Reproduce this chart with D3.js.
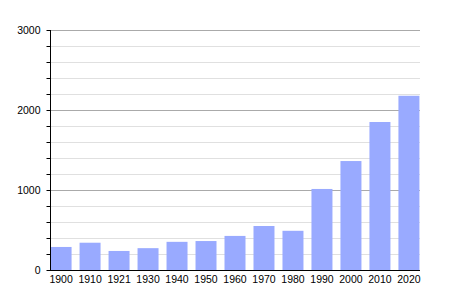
<!DOCTYPE html>
<html>
<head>
<meta charset="utf-8">
<script src="https://cdn.jsdelivr.net/npm/d3@7"></script>
<style>
  body { margin: 0; background: #fff; }
  text { font-family: "Liberation Sans", Arial, sans-serif; font-size: 10px; fill: #000; }
</style>
</head>
<body>
<div id="chart"></div>
<script>
const years = ['1900', '1910', '1921', '1930', '1940', '1950', '1960', '1970', '1980', '1990', '2000', '2010', '2020'];
const population = [288, 341, 238, 273, 352, 362, 426, 550, 490, 1013, 1362, 1850, 2178];
const majorTicks = [0, 1000, 2000, 3000];
const minorTicks = d3.range(0, 3001, 200);

const margin = { top: 30, right: 30, bottom: 30, left: 50 };
const width = 370;
const height = 300 - margin.top - margin.bottom;

const svg = d3.select('#chart')
  .append('svg')
  .attr('width', 450)
  .attr('height', 300)
  .append('g')
  .attr('transform', `translate(${margin.left}, ${margin.top})`);

const x = d3.scaleBand().domain(years).range([0, width]).paddingInner(0.276).paddingOuter(0.02);
const y = d3.scaleLinear().domain([0, 3000]).range([height, 0]);

// grid lines, minor first then major on top
svg.append('g').selectAll('line')
  .data(minorTicks.filter(d => d % 1000 !== 0))
  .enter().append('line')
    .attr('x1', 0).attr('x2', width)
    .attr('y1', d => y(d) + 0.5).attr('y2', d => y(d) + 0.5)
    .attr('stroke', '#e0e0e0');

svg.append('g').selectAll('line')
  .data(majorTicks.filter(d => d > 0))
  .enter().append('line')
    .attr('x1', 0).attr('x2', width)
    .attr('y1', d => y(d) + 0.5).attr('y2', d => y(d) + 0.5)
    .attr('stroke', '#aaa');

svg.append('g').selectAll('rect')
  .data(population)
  .enter().append('rect')
    .attr('x', (d, i) => x(years[i]))
    .attr('y', d => y(d))
    .attr('width', x.bandwidth())
    .attr('height', d => height - y(d))
    .attr('fill', '#99aaff');

// y axis
const yAxis = svg.append('g')
  .attr('transform', 'translate(0.5, 0)')
  .call(d3.axisLeft(y).tickValues(minorTicks).tickSize(4)
    .tickFormat(d => majorTicks.includes(d) ? d : ''));
yAxis.select('.domain').attr('stroke', '#000').attr('d', `M0,0V${height}`);
yAxis.selectAll('.tick line').attr('stroke', '#000');
yAxis.selectAll('.tick text').attr('x', -10).style('font-size', '10.5px');

// x axis
const xAxis = svg.append('g')
  .attr('transform', `translate(0, ${height + 0.5})`)
  .call(d3.axisBottom(x).tickSize(0).tickPadding(5));
xAxis.select('.domain').attr('stroke', '#000').attr('d', `M0,0H${width}`);
xAxis.selectAll('.tick text').style('font-size', '10.5px');
</script>
</body>
</html>
